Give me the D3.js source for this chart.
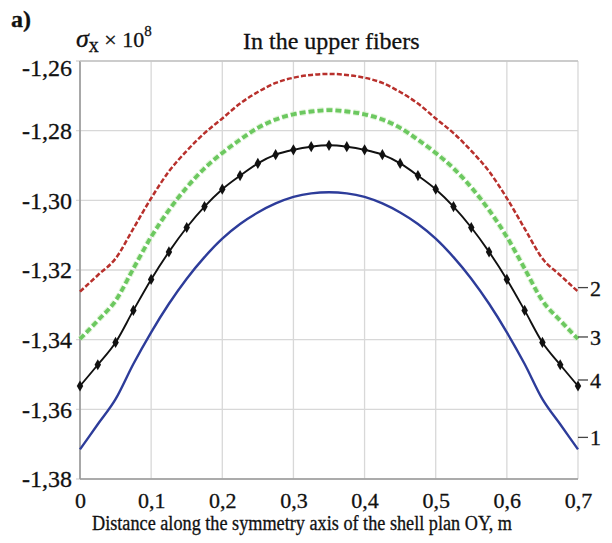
<!DOCTYPE html>
<html>
<head>
<meta charset="utf-8">
<script src="https://cdn.jsdelivr.net/npm/d3@7"></script>
<style>
  html, body { margin: 0; padding: 0; background: #fff; }
  svg { display: block; }
  text { font-family: "Liberation Serif", "Times New Roman", serif; fill: #111; stroke: #111; stroke-width: 0.3px; }
</style>
</head>
<body>
<svg id="chart" width="612" height="543"></svg>
<script>
// ---- data ----
const xValues = [0, 0.025, 0.05, 0.075, 0.1, 0.125, 0.15, 0.175, 0.2, 0.225, 0.25, 0.275, 0.3, 0.325, 0.35,
                 0.375, 0.4, 0.425, 0.45, 0.475, 0.5, 0.525, 0.55, 0.575, 0.6, 0.625, 0.65, 0.675, 0.7];
const series1 = [-1.3715, -1.3643, -1.3571, -1.3470, -1.3379, -1.3297, -1.3225, -1.3163, -1.3110, -1.3068, -1.3035, -1.3009, -1.2990, -1.2980, -1.2977,
                 -1.2980, -1.2990, -1.3009, -1.3035, -1.3068, -1.3110, -1.3163, -1.3225, -1.3297, -1.3379, -1.3470, -1.3571, -1.3643, -1.3715];
const series2 = [-1.3262, -1.3215, -1.3167, -1.3081, -1.2994, -1.2917, -1.2858, -1.2807, -1.2765, -1.2722, -1.2689, -1.2663, -1.2648, -1.2640, -1.2637,
                 -1.2640, -1.2648, -1.2663, -1.2689, -1.2722, -1.2765, -1.2807, -1.2858, -1.2917, -1.2994, -1.3081, -1.3167, -1.3215, -1.3262];
const series3 = [-1.3398, -1.3345, -1.3288, -1.3196, -1.3105, -1.3028, -1.2963, -1.2908, -1.2864, -1.2826, -1.2792, -1.2768, -1.2753, -1.2745, -1.2741,
                 -1.2745, -1.2753, -1.2768, -1.2792, -1.2826, -1.2864, -1.2908, -1.2963, -1.3028, -1.3105, -1.3196, -1.3288, -1.3345, -1.3398];
const series4 = [-1.3533, -1.3472, -1.3408, -1.3316, -1.3227, -1.3148, -1.3078, -1.3018, -1.2968, -1.2929, -1.2894, -1.2869, -1.2855, -1.2846, -1.2842,
                 -1.2846, -1.2855, -1.2869, -1.2894, -1.2929, -1.2968, -1.3018, -1.3078, -1.3148, -1.3227, -1.3316, -1.3408, -1.3472, -1.3533];
const xTicks = [0, 0.1, 0.2, 0.3, 0.4, 0.5, 0.6, 0.7];
const xTickLabels = ["0", "0,1", "0,2", "0,3", "0,4", "0,5", "0,6", "0,7"];
const yTicks = [-1.26, -1.28, -1.30, -1.32, -1.34, -1.36, -1.38];
const yTickLabels = ["-1,26", "-1,28", "-1,30", "-1,32", "-1,34", "-1,36", "-1,38"];
const curveLabels = ["1", "2", "3", "4"];

// ---- layout ----
const svg = d3.select("#chart");
const pL = 80, pR = 578, pT = 61, pB = 479;
const x = d3.scaleLinear().domain([0, 0.7]).range([pL, pR]);
const y = d3.scaleLinear().domain([-1.38, -1.26]).range([pB, pT]);

svg.append("rect").attr("width", 612).attr("height", 543).attr("fill", "#fff");

// grid
const grid = svg.append("g");
grid.selectAll("line.v").data(xTicks).join("line")
  .attr("x1", d => x(d)).attr("x2", d => x(d))
  .attr("y1", pT).attr("y2", pB)
  .attr("stroke", "#d8d8d8").attr("stroke-width", 1.3);
grid.selectAll("line.h").data(yTicks).join("line")
  .attr("x1", pL - 4).attr("x2", pR)
  .attr("y1", d => y(d)).attr("y2", d => y(d))
  .attr("stroke", "#d8d8d8").attr("stroke-width", 1.3);

// axes lines
svg.append("line").attr("x1", pL).attr("x2", pL).attr("y1", pT).attr("y2", pB)
  .attr("stroke", "#999").attr("stroke-width", 1.6);
svg.append("line").attr("x1", pL).attr("x2", pR).attr("y1", pB).attr("y2", pB)
  .attr("stroke", "#999").attr("stroke-width", 1.6);
svg.append("line").attr("x1", pL).attr("x2", pR).attr("y1", pT).attr("y2", pT)
  .attr("stroke", "#c4c4c4").attr("stroke-width", 1.4);

// axes via d3 (labels only)
const yAxis = d3.axisLeft(y).tickValues(yTicks).tickFormat((d, i) => yTickLabels[i]).tickSize(0).tickPadding(8);
const gy = svg.append("g").attr("transform", `translate(${pL},0)`).call(yAxis);
gy.select(".domain").remove();
gy.selectAll("text").attr("font-size", 24).attr("dy", (d, i) => i === 0 ? "0.62em" : "0.33em").attr("fill", "#111")
  .style("font-family", '"Liberation Serif", serif');

const xAxis = d3.axisBottom(x).tickValues(xTicks).tickFormat((d, i) => xTickLabels[i]).tickSize(0).tickPadding(13);
const gx = svg.append("g").attr("transform", `translate(0,${pB})`).call(xAxis);
gx.select(".domain").remove();
gx.selectAll("text").attr("font-size", 22).attr("fill", "#111")
  .style("font-family", '"Liberation Serif", serif');

// curves
const line = d3.line().x(d => x(d[0])).y(d => y(d[1])).curve(d3.curveMonotoneX);
const zip = s => xValues.map((xv, i) => [xv, s[i]]);

svg.append("path").attr("d", line(zip(series1)))
  .attr("fill", "none").attr("stroke", "#2d3c9a").attr("stroke-width", 2.4);

svg.append("path").attr("d", line(zip(series3)))
  .attr("fill", "none").attr("stroke", "#d4efc8").attr("stroke-width", 6).attr("stroke-dasharray", "6,3").attr("opacity", 0.7);
svg.append("path").attr("d", line(zip(series3)))
  .attr("fill", "none").attr("stroke", "#6cc860").attr("stroke-width", 3.8).attr("stroke-dasharray", "6,3");

svg.append("path").attr("d", line(zip(series2)))
  .attr("fill", "none").attr("stroke", "#b8302c").attr("stroke-width", 2.5).attr("stroke-dasharray", "5,2.2");

svg.append("path").attr("d", line(zip(series4)))
  .attr("fill", "none").attr("stroke", "#111").attr("stroke-width", 1.9);

svg.append("g").selectAll("path").data(zip(series4)).join("path")
  .attr("transform", d => `translate(${x(d[0])},${y(d[1])})`)
  .attr("d", d3.symbol().type(d3.symbolDiamond).size(36))
  .attr("fill", "#111");

// curve labels at right end
const ends = [series1, series2, series3, series4];
const labelOffsets = [-12, -4, -2, -6];
const lg = svg.append("g");
curveLabels.forEach((lab, i) => {
  const ly = y(ends[i][ends[i].length - 1]) + labelOffsets[i];
  lg.append("line").attr("x1", pR).attr("x2", pR + 10).attr("y1", ly).attr("y2", ly)
    .attr("stroke", "#444").attr("stroke-width", 1.3);
  lg.append("text").attr("x", pR + 12).attr("y", ly + 8).attr("font-size", 22).text(lab);
});

// titles
svg.append("text").attr("x", 11).attr("y", 27).attr("font-size", 24).attr("font-weight", "bold").text("a)");
const ylab = svg.append("text").attr("x", 76).attr("y", 47).attr("font-size", 26);
ylab.append("tspan").attr("font-style", "italic").text("σ");
ylab.append("tspan").attr("font-size", 20).attr("dy", 5).text("x");
ylab.append("tspan").attr("dy", -5).attr("font-size", 22).text(" × 10");
ylab.append("tspan").attr("font-size", 15).attr("dy", -11).text("8");

svg.append("text").attr("x", 243).attr("y", 49).attr("font-size", 24).text("In the upper fibers");

svg.append("text").attr("x", 92).attr("y", 530).attr("font-size", 20)
  .attr("textLength", 420).attr("lengthAdjust", "spacingAndGlyphs")
  .text("Distance along the symmetry axis of the shell plan OY, m");
</script>
</body>
</html>
